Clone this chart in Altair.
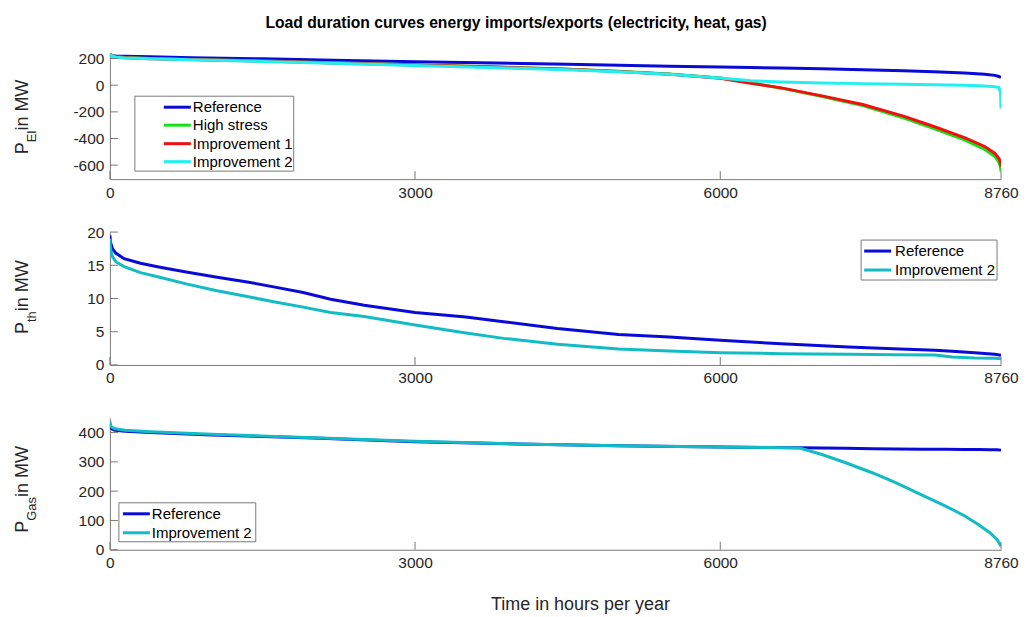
import altair as alt
import pandas as pd

FONT = "Liberation Sans"
TEXT = "#262626"
AXIS_COLOR = "#7a7a7a"

# ---------------- data ----------------
x_ticks = [0, 3000, 6000, 8760]

# Panel 1: electricity
series_el = ["Reference", "High stress", "Improvement 1", "Improvement 2"]
colors_el = ["#0a0ad8", "#18e018", "#f01010", "#22f0f0"]
hours_el = [0, 5, 20, 60, 150, 400, 800, 1500, 2200, 3000, 3800, 4500, 5000, 5500,
            6000, 6300, 6600, 7000, 7400, 7800, 8100, 8400, 8600, 8700, 8740, 8755, 8760]
el_reference = [232, 226, 222, 219, 217, 213, 207, 198, 188, 177, 166, 157, 150, 143,
                137, 133, 129, 123, 116, 108, 101, 92, 83, 74, 66, 60, 55]
el_high_stress = [240, 232, 222, 214, 208, 200, 194, 182, 168, 153, 137, 120, 104, 84,
                  54, 18, -22, -85, -152, -245, -325, -410, -482, -535, -580, -615, -648]
el_improvement_1 = [238, 230, 221, 213, 207, 199, 193, 181, 167, 152, 136, 119, 103, 83,
                    53, 15, -20, -80, -145, -232, -310, -393, -460, -512, -550, -580, -610]
el_improvement_2 = [236, 228, 219, 211, 205, 198, 191, 179, 165, 148, 132, 116, 101, 82,
                    54, 33, 24, 16, 12, 8, 4, 0, -5, -11, -18, -60, -175]
el_ticks = [-600, -400, -200, 0, 200]

# Panel 2: heat
series_th = ["Reference", "Improvement 2"]
colors_th = ["#0a0ad8", "#12bcc4"]
hours_th = [0, 5, 25, 60, 140, 300, 480, 750, 1040, 1350, 1610, 1900, 2170, 2500, 3000,
            3500, 3870, 4400, 5000, 5500, 6000, 6600, 7260, 7700, 8110, 8280, 8500, 8700, 8760]
th_reference = [19.5, 18.5, 17.5, 16.8, 16.0, 15.3, 14.75, 14.0, 13.25, 12.5, 11.75, 10.9,
                9.9, 9.0, 7.9, 7.2, 6.5, 5.5, 4.6, 4.2, 3.7, 3.2, 2.7, 2.45, 2.2, 2.05,
                1.85, 1.6, 1.45]
th_improvement_2 = [19.0, 17.5, 16.3, 15.5, 14.8, 13.9, 13.25, 12.2, 11.2, 10.3, 9.5, 8.7,
                    7.9, 7.3, 6.0, 4.8, 4.0, 3.1, 2.4, 2.1, 1.85, 1.7, 1.6, 1.55, 1.5, 1.2,
                    1.05, 1.0, 0.95]
th_ticks = [0, 5, 10, 15, 20]

# Panel 3: gas
series_gas = ["Reference", "Improvement 2"]
colors_gas = ["#0a0ad8", "#12bcc4"]
hours_gas = [0, 5, 20, 50, 150, 400, 1000, 2000, 3000, 4000, 5000, 6000, 6500, 6780, 7000,
             7240, 7500, 7730, 8000, 8210, 8400, 8540, 8650, 8720, 8760]
gas_reference = [430, 418, 412, 408, 404, 400, 392, 381, 369, 361, 355, 351, 349, 348, 347,
                 346, 345, 344, 343, 343, 342, 342, 341, 341, 340]
gas_improvement_2 = [440, 425, 418, 413, 408, 403, 394, 382, 370, 361, 355, 351, 349, 347,
                     325, 296, 262, 228, 184, 150, 116, 85, 58, 35, 12]
gas_ticks = [0, 100, 200, 300, 400]

W = 892


def make_panel(hours, names, values_list, colors, domain, yticks, height, sub, sub_w,
               title_start, legend):
    x_axis = alt.Axis(values=x_ticks, title=None, labelFlush=False, labelOverlap=False,
                      labelPadding=6, format="d")
    y_axis = alt.Axis(values=yticks, title=None, labelExpr="'' + datum.value",
                      labelPadding=6, labelOverlap=False)

    def xenc():
        return alt.X("h:Q", scale=alt.Scale(domain=[0, 8760], nice=False, zero=False),
                     axis=x_axis)

    def yenc():
        return alt.Y("v:Q", scale=alt.Scale(domain=domain, nice=False, zero=False),
                     axis=y_axis)

    layers = []
    for name, vals, col in zip(names, values_list, colors):
        df = pd.DataFrame({"h": hours, "v": vals, "series": name})
        layers.append(alt.Chart(df).mark_line(strokeWidth=3, color=col, clip=True)
                      .encode(x=xenc(), y=yenc()))
    # inward ticks
    layers.append(alt.Chart(pd.DataFrame({"h": x_ticks})).mark_rule(color=AXIS_COLOR, strokeWidth=1)
                  .encode(x=xenc(), y=alt.value(height), y2=alt.value(height - 8)))
    layers.append(alt.Chart(pd.DataFrame({"v": yticks})).mark_rule(color=AXIS_COLOR, strokeWidth=1)
                  .encode(y=yenc(), x=alt.value(0), x2=alt.value(8)))

    one = pd.DataFrame({"a": [0]})
    # y title with subscript
    layers.append(alt.Chart(one).mark_text(text="P", angle=270, align="left", baseline="alphabetic",
                                           font=FONT, fontSize=18, color=TEXT)
                  .encode(x=alt.value(-82), y=alt.value(title_start)))
    layers.append(alt.Chart(one).mark_text(text=sub, angle=270, align="left", baseline="alphabetic",
                                           font=FONT, fontSize=13, color=TEXT)
                  .encode(x=alt.value(-74), y=alt.value(title_start - 12)))
    layers.append(alt.Chart(one).mark_text(text=" in MW", angle=270, align="left", baseline="alphabetic",
                                           font=FONT, fontSize=18, color=TEXT)
                  .encode(x=alt.value(-82), y=alt.value(title_start - 12 - sub_w)))

    # legend
    bx0, by0, bx1, by1, lx0, lx1, tx, rows = legend
    layers.append(alt.Chart(one).mark_rect(fill="white", stroke=AXIS_COLOR, strokeWidth=1)
                  .encode(x=alt.value(bx0), x2=alt.value(bx1), y=alt.value(by0), y2=alt.value(by1)))
    for name, col, ry in zip(names, colors, rows):
        layers.append(alt.Chart(one).mark_rule(color=col, strokeWidth=3)
                      .encode(x=alt.value(lx0), x2=alt.value(lx1), y=alt.value(ry)))
        layers.append(alt.Chart(one).mark_text(text=name, align="left", baseline="middle",
                                               font=FONT, fontSize=15, color="black")
                      .encode(x=alt.value(tx), y=alt.value(ry)))
    return alt.layer(*layers).properties(width=W, height=height)


p1 = make_panel(hours_el, series_el,
                [el_reference, el_high_stress, el_improvement_1, el_improvement_2],
                colors_el, [-705, 240], el_ticks, 126, "El", 11.6, 101,
                (25, 43, 184, 118, 54, 81, 83, [54, 72, 90.5, 108.5]))
p2 = make_panel(hours_th, series_th, [th_reference, th_improvement_2],
                colors_th, [0, 20], th_ticks, 133, "th", 10.8, 102,
                (752, 8, 888, 48, 755, 782, 786, [19, 38]))
p3 = make_panel(hours_gas, series_gas, [gas_reference, gas_improvement_2],
                colors_gas, [0, 450], gas_ticks, 132, "Gas", 23.8, 115,
                (9, 85, 146, 124, 13, 40, 42, [96, 115]))

xtitle = alt.Chart(pd.DataFrame({"a": [0]})).mark_text(
    text="Time in hours per year", align="center", baseline="middle",
    font=FONT, fontSize=18, color=TEXT).encode(x=alt.value(471), y=alt.value(132 + 55))
p3 = alt.layer(p3, xtitle)

chart = alt.vconcat(p1, p2, p3, spacing=53, bounds="flush").properties(
    title=alt.TitleParams(
        text="Load duration curves energy imports/exports (electricity, heat, gas)",
        font=FONT, fontSize=15.7, fontWeight="bold", color="black",
        anchor="middle", offset=20),
    padding={"left": 5, "top": 6, "right": 0, "bottom": 0},
).configure_view(stroke=None).configure_axis(
    domainColor=AXIS_COLOR, domainWidth=1, labelColor=TEXT, labelFont=FONT,
    labelFontSize=15.5, grid=False, ticks=False, tickSize=0,
)

chart.save("out.html", embed_options={"renderer": "svg", "actions": False})
